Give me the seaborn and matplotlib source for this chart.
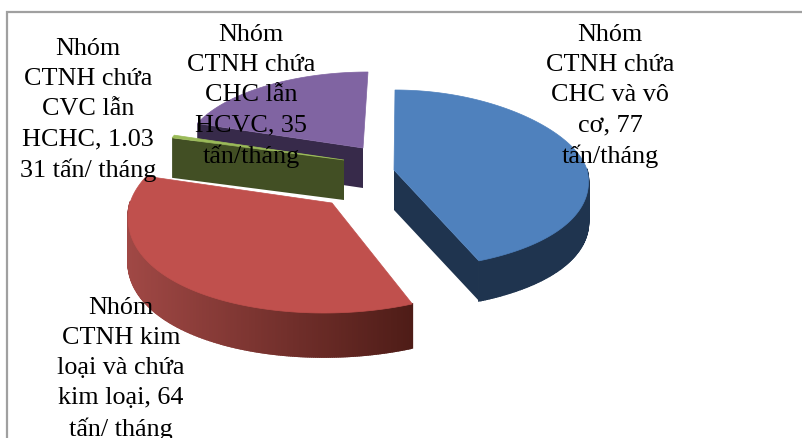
import numpy as np
import matplotlib
matplotlib.use("Agg")
import matplotlib.pyplot as plt
from matplotlib.colors import to_rgb
import seaborn as sns

# Monthly hazardous waste by group (tấn/tháng)
categories = ["Nhóm\nCTNH chứa\nCHC và vô\ncơ, 77\ntấn/tháng",
              "Nhóm\nCTNH kim\nloại và chứa\nkim loại, 64\ntấn/ tháng",
              "Nhóm\nCTNH chứa\nCVC lẫn\nHCHC, 1.03\n31 tấn/ tháng",
              "Nhóm\nCTNH chứa\nCHC lẫn\nHCVC, 35\ntấn/tháng"]
values = [77, 64, 1.0331, 35]

top_colors = ["#4f81bd", "#c0504d", "#9bbb59", "#8064a2"]
wall_colors = ["#1f344f", "#a04845", "#424f24", "#372a4a"]
wall_end_colors = ["#1f344f", "#4e1c17", "#424f24", "#372a4a"]

# Placement of each exploded slice on the canvas, in pixels
slice_geometry = [
    dict(ax=394, ay=170, rx=193, back=80, front=99, persp=0.13, lean=1, depth=40, cut="end"),
    dict(ax=332, ay=203, rx=202, back=93, front=110, persp=0.10, lean=8, depth=44, cut=None),
    dict(ax=344, ay=160, rx=181, back=77, front=77, persp=0.0, lean=5, depth=40, cut="start"),
    dict(ax=363, ay=148, rx=178, back=76, front=76, persp=0.02, lean=5, depth=40, cut="start"),
]
label_centres = [(610, 96), (121, 369), (88, 110), (251, 96)]

sns.set_theme(style="white")
plt.rcParams["font.family"] = ["Liberation Serif", "DejaVu Serif"]

fig = plt.figure(figsize=(8.02, 4.38), dpi=100, facecolor="white")
ax = fig.add_axes([0, 0, 1, 1])
ax.set_xlim(0, 802)
ax.set_ylim(438, 0)
ax.axis("off")

# Chart frame: only the top and left edges fall inside the canvas
ax.plot([7, 7, 802], [438, 12, 12], color="#a0a0a0", lw=1.6, solid_joinstyle="miter")


def rim(theta, g):
    """Screen position of a rim point at clockwise angle theta (radians) from the top."""
    s, c = np.sin(theta), np.cos(theta)
    x = g["ax"] + g["rx"] * s * (1 - g["persp"] * c) + g["lean"] * c
    y = g["ay"] - np.where(c > 0, g["back"], g["front"]) * c
    return x, y


# Slice boundaries follow from the values
fractions = np.asarray(values, dtype=float) / np.sum(values)
edges = np.concatenate([[0], np.cumsum(fractions)]) * 2 * np.pi

for i in (3, 2, 1, 0):
    g = slice_geometry[i]
    t0, t1 = edges[i], edges[i + 1]
    theta = np.linspace(t0, t1, 240)
    x, y = rim(theta, g)
    d = g["depth"]
    z = 5 - i

    # Radial cut wall on the side that faces the viewer
    if g["cut"]:
        t = t0 if g["cut"] == "start" else t1
        ex, ey = rim(np.array([t]), g)
        ax.fill([g["ax"], ex[0], ex[0], g["ax"]],
                [g["ay"], ey[0], ey[0] + d, g["ay"] + d],
                color=wall_colors[i], lw=0, zorder=z)

    # Outer rim wall, shaded quad by quad along its width
    vis = np.where(np.cos(theta) < 0.02)[0]
    if len(vis) > 1:
        vx, vy = x[vis], y[vis]
        c0, c1 = np.array(to_rgb(wall_colors[i])), np.array(to_rgb(wall_end_colors[i]))
        xmin, xmax = vx.min(), vx.max()
        for a in range(len(vx) - 1):
            f = ((vx[a] + vx[a + 1]) / 2 - xmin) / max(xmax - xmin, 1)
            ax.fill([vx[a], vx[a + 1], vx[a + 1], vx[a]],
                    [vy[a], vy[a + 1], vy[a + 1] + d, vy[a] + d],
                    color=c0 + (c1 - c0) * f, lw=1.2, zorder=z)

    # Top face
    ax.fill(np.r_[g["ax"], x], np.r_[g["ay"], y], color=top_colors[i], lw=0.5, zorder=z)

for text, (cx, cy) in zip(categories, label_centres):
    ax.text(cx, cy, text, ha="center", va="center", fontsize=18.8, color="black",
            linespacing=1.48, zorder=10, clip_on=True)

fig.savefig("out.png", dpi=100, facecolor="white")
